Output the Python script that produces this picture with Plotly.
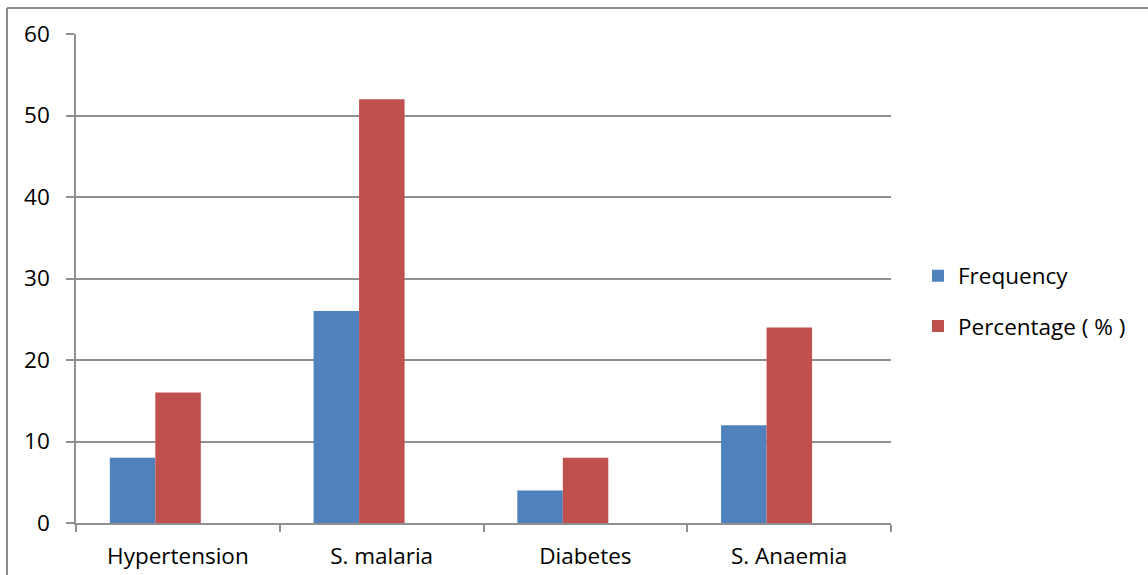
import plotly.graph_objects as go

categories = ["Hypertension", "S. malaria", "Diabetes", "S. Anaemia"]
frequency = [8, 26, 4, 12]
percentage = [16, 52, 8, 24]
y_ticks = [0, 10, 20, 30, 40, 50, 60]

W, H = 1148, 575
L, R, T, B = 76, 257, 34, 52
pw, ph = W - L - R, H - T - B

grid = "#8f8f8f"
font = dict(family="Open Sans", size=22.5, color="#000000")

# bars sit slightly left of each category centre
bar_w = 0.2233
fig = go.Figure()
fig.add_trace(go.Bar(name="Frequency", x=categories, y=frequency,
                     width=bar_w, offset=-0.334,
                     marker=dict(color="#4f81bd", line=dict(width=0)),
                     legendgroup="a"))
fig.add_trace(go.Bar(name="Percentage ( % )", x=categories, y=percentage,
                     width=bar_w, offset=-0.334 + bar_w,
                     marker=dict(color="#c0504d", line=dict(width=0)),
                     legendgroup="b"))

# outer chart frame (top and left edges visible)
fx = (7 - L) / pw
fy = 1 + (T - 8) / ph
frame = dict(type="line", xref="paper", yref="paper",
             line=dict(color="#8c8c8c", width=2), layer="below")
fig.add_shape(**frame, x0=fx, x1=1 + (W + 10 - L - pw) / pw, y0=fy, y1=fy)
fig.add_shape(**frame, x0=fx, x1=fx, y0=fy, y1=-(B + 10) / ph)

fig.update_layout(
    width=W, height=H,
    margin=dict(l=L, r=R, t=T, b=B, autoexpand=False),
    paper_bgcolor="white", plot_bgcolor="white",
    barmode="overlay",
    font=font,
    showlegend=True,
    legend=dict(x=(918 - L) / pw, xanchor="left",
                y=1 - (301 - T) / ph, yanchor="middle",
                font=font, tracegroupgap=18,
                bgcolor="rgba(0,0,0,0)", itemwidth=30),
    xaxis=dict(type="category", showgrid=False, showline=True,
               linecolor=grid, linewidth=1.5, ticks="outside",
               tickson="boundaries", ticklen=7, tickcolor=grid, tickwidth=1.5,
               tickfont=font, ticklabelstandoff=12, fixedrange=True),
    yaxis=dict(range=[0, 60], tickvals=y_ticks, showgrid=True,
               gridcolor=grid, gridwidth=1.5, showline=True,
               linecolor=grid, linewidth=1.5, ticks="outside", ticklen=8,
               tickcolor=grid, tickwidth=1.5, tickfont=font,
               ticklabelstandoff=12, zeroline=False, fixedrange=True),
)

fig.write_html("out.html")
